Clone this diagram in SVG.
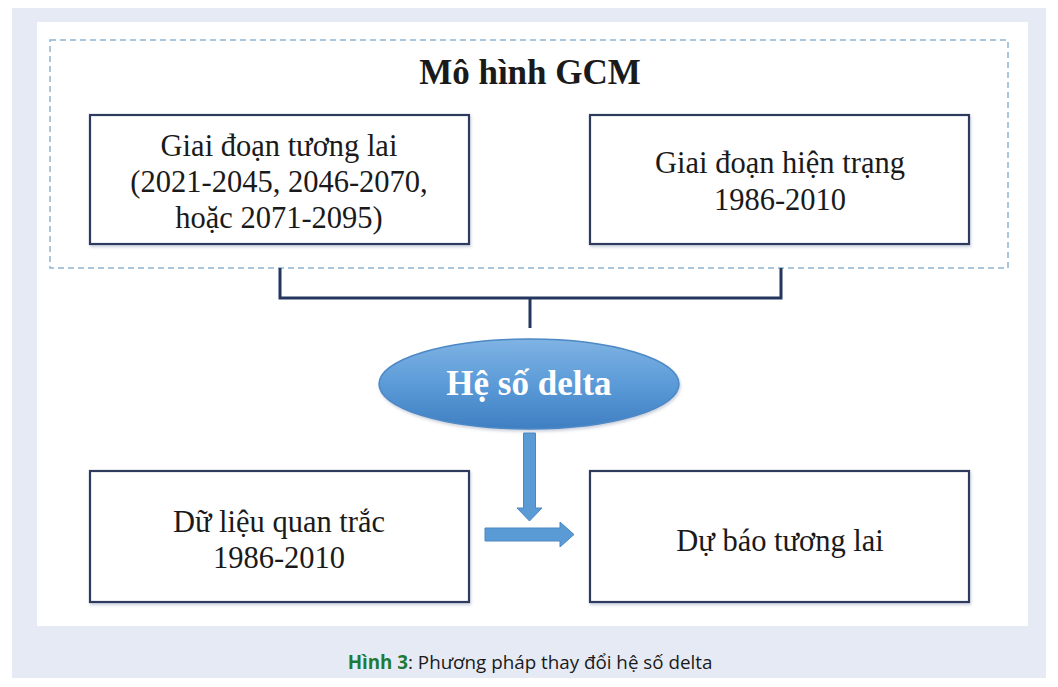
<svg xmlns="http://www.w3.org/2000/svg" width="1058" height="687" viewBox="0 0 1058 687">
<defs>
<style>
.box{fill:#ffffff;stroke:#2f3b5e;stroke-width:2.2}
.t{font-family:"Liberation Serif","Times New Roman",serif;font-size:30.5px;fill:#1a1a1a;text-anchor:middle}
.conn{fill:none;stroke:#24365e;stroke-width:3}
.arrow{fill:#5b9bd5;stroke:#4a88c4;stroke-width:1}
</style>
<linearGradient id="eg" x1="0" y1="0" x2="0" y2="1">
<stop offset="0" stop-color="#7fb3e3"/>
<stop offset="0.5" stop-color="#5b9bd8"/>
<stop offset="1" stop-color="#3f7fc2"/>
</linearGradient>
<filter id="sh" x="-5%" y="-5%" width="110%" height="115%">
<feDropShadow dx="1" dy="2" stdDeviation="1.5" flood-color="#6a7a9a" flood-opacity="0.35"/>
</filter>
</defs>
<rect x="0" y="0" width="1058" height="687" fill="#ffffff"/>
<rect x="12" y="8" width="1034" height="670" fill="#e6eaf5"/>
<rect x="37" y="22" width="991" height="604" fill="#ffffff"/>
<g id="gcm">
<rect x="50" y="40" width="958" height="228" fill="none" stroke="#8fb4d2" stroke-width="1.5" stroke-dasharray="6,4"/>
<text x="530" y="84" class="t" style="font-size:35px;font-weight:bold">Mô hình GCM</text>
</g>
<g id="future">
<rect class="box" x="90" y="115" width="379" height="129" filter="url(#sh)"/>
<text class="t" x="279" y="156">Giai đoạn tương lai</text>
<text class="t" x="279" y="192">(2021-2045, 2046-2070,</text>
<text class="t" x="279" y="228">hoặc 2071-2095)</text>
</g>
<g id="current">
<rect class="box" x="590" y="115" width="379" height="129" filter="url(#sh)"/>
<text class="t" x="780" y="173">Giai đoạn hiện trạng</text>
<text class="t" x="780" y="210">1986-2010</text>
</g>
<g id="connectors">
<path class="conn" d="M280 268 V298 H781 V268 M530 298 V328"/>
<path class="arrow" d="M523.5 433 H535.5 V508 H542 L529.5 521 L517 508 H523.5 Z"/>
<path class="arrow" d="M485 528 H560 V522 L574 534.5 L560 547 V541 H485 Z"/>
</g>
<g id="delta">
<ellipse cx="529" cy="384" rx="150" ry="45" fill="url(#eg)" stroke="#4d89c6" stroke-width="1.5" filter="url(#sh)"/>
<text x="529" y="395" class="t" style="font-size:35px;font-weight:bold;fill:#ffffff">Hệ số delta</text>
</g>
<g id="observed">
<rect class="box" x="90" y="471" width="379" height="131" filter="url(#sh)"/>
<text class="t" x="279" y="532">Dữ liệu quan trắc</text>
<text class="t" x="279" y="568">1986-2010</text>
</g>
<g id="forecast">
<rect class="box" x="590" y="471" width="379" height="131" filter="url(#sh)"/>
<text class="t" x="780" y="551">Dự báo tương lai</text>
</g>
<text x="530" y="669" text-anchor="middle" font-family="'Open Sans','Noto Sans',sans-serif" font-size="18.8" fill="#1a1a1a"><tspan font-weight="bold" fill="#1e7a36">Hình 3</tspan>: Phương pháp thay đổi hệ số delta</text>
</svg>
